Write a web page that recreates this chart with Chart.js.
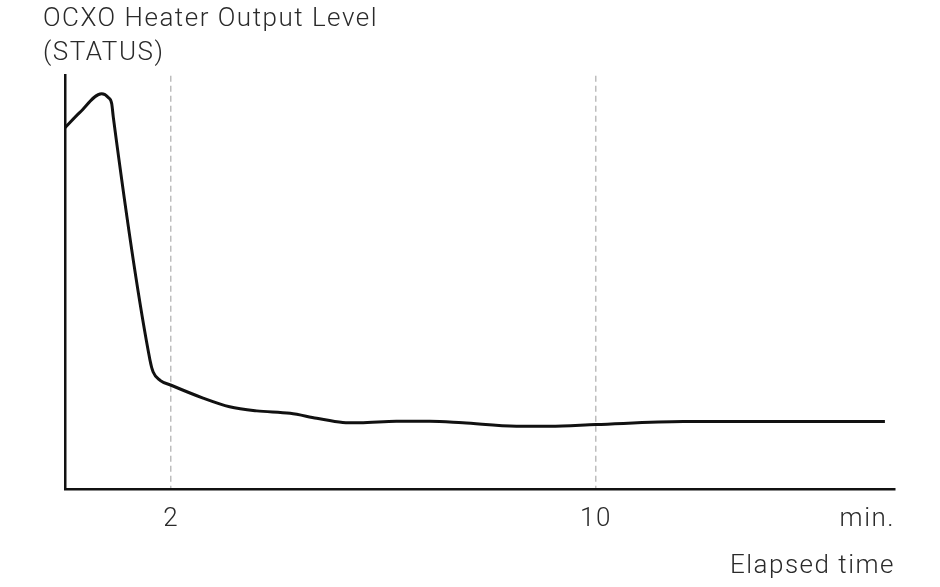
<!DOCTYPE html>
<html>
<head>
<meta charset="utf-8">
<script src="https://cdn.jsdelivr.net/npm/chart.js@4.4.1/dist/chart.umd.min.js"></script>
<style>
html,body{margin:0;padding:0;background:#fff;}
#c{display:block;}
</style>
</head>
<body>
<canvas id="c" width="940" height="587" style="width:940px;height:587px"></canvas>
<script>
// ---- data ----
const titleLines = ['OCXO Heater Output Level', '(STATUS)'];
const xAxisTitle = 'Elapsed time';
const tickValues = [0, 2, 10, 15.63];
const tickLabels = ['', '2', '10', 'min.'];
const dashedAt = [2, 10];
const timeMin = [0, 0.28, 0.69, 0.815, 0.88, 0.91, 1.6, 1.66, 1.79, 2.0, 2.6, 3.1, 3.61, 4.24, 4.74, 5.23, 5.55, 6.24, 6.87, 7.49, 8.5, 9.13, 10, 11.64, 12.9, 15.44];
const level   = [87.4, 91.1, 95.6, 94.7, 93.2, 89.9, 31.2, 28.3, 26.3, 25.1, 22.0, 19.9, 18.9, 18.3, 17.1, 16.1, 16.0, 16.4, 16.4, 16.0, 15.2, 15.2, 15.6, 16.3, 16.35, 16.35];

const FONT = 'Roboto, "Liberation Sans", sans-serif';
const TEXT = '#2a2a2a';
const SPACING = '1.5px';

const spacingPlugin = {
  id: 'spacing',
  beforeLayout(chart) { chart.ctx.letterSpacing = SPACING; },
  beforeDraw(chart) { chart.ctx.letterSpacing = SPACING; }
};

new Chart(document.getElementById('c'), {
  type: 'line',
  plugins: [spacingPlugin],
  data: {
    datasets: [{
      data: timeMin.map((t, i) => ({x: t, y: level[i]})),
      borderColor: '#111',
      borderWidth: 3,
      pointRadius: 0,
      cubicInterpolationMode: 'monotone',
      fill: false
    }]
  },
  options: {
    responsive: false,
    animation: false,
    devicePixelRatio: 1,
    layout: {padding: {left: 43, right: 45, top: 0, bottom: 0}},
    plugins: {
      legend: {display: false},
      tooltip: {enabled: false},
      title: {
        display: true, text: titleLines, align: 'start', color: TEXT,
        font: {family: FONT, size: 26, weight: '300', lineHeight: 1.32},
        padding: {top: 2, bottom: 5}
      }
    },
    scales: {
      x: {
        type: 'linear', min: 0, max: 15.63,
        afterBuildTicks: s => { s.ticks = tickValues.map(v => ({value: v})); },
        afterFit: s => { s.height = 98; },
        ticks: {
          callback: (v, i) => tickLabels[i],
          align: 'inner', maxRotation: 0, autoSkip: false,
          color: TEXT, font: {family: FONT, size: 26, weight: '300', lineHeight: 1.2}, padding: 15
        },
        grid: {
          color: c => (c.tick && dashedAt.includes(c.tick.value)) ? '#bdbdbd' : 'rgba(0,0,0,0)',
          lineWidth: 1.5, drawTicks: false
        },
        border: {display: true, color: '#111', width: 2.5, dash: [6, 4]},
        title: {
          display: true, text: xAxisTitle, align: 'end', color: TEXT,
          font: {family: FONT, size: 26, weight: '300', lineHeight: 1.2}, padding: {top: 0, bottom: 5}
        }
      },
      y: {
        min: 0, max: 100,
        afterFit: s => { s.width = 22; },
        ticks: {display: false},
        grid: {display: false},
        border: {display: true, color: '#111', width: 2.5}
      }
    }
  }
});
</script>
</body>
</html>
